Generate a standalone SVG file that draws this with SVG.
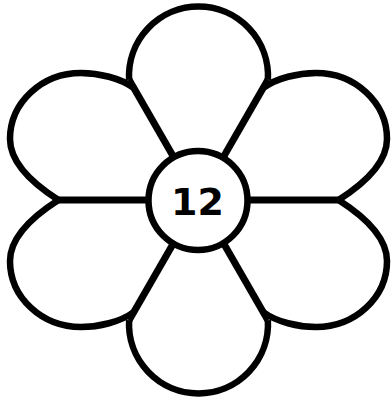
<svg xmlns="http://www.w3.org/2000/svg" xmlns:xlink="http://www.w3.org/1999/xlink" width="391" height="400" viewBox="0 0 391 400">
<style>
.p{fill:none;stroke:#000;stroke-width:6.5;stroke-linejoin:round;stroke-linecap:butt}
.l{stroke:#000;stroke-width:7;stroke-linecap:butt}
.c{fill:#fff;stroke:#000;stroke-width:6.5}
.t{font-family:"DejaVu Sans",Verdana,sans-serif;font-weight:bold;font-size:38px;fill:#000}
</style>
<defs>
<path id="tp" d="M -69.4 -120.2 A 69.5 69.5 0 1 1 69.4 -120.2"/>
<path id="sp" d="M 64.7 -112 C 78 -122 100 -127 117.5 -127 C 156.7 -127 188.5 -97.4 188.5 -61 C 188.5 -35 162 -14 140 0"/>
</defs>
<rect width="391" height="400" fill="#fff"/>
<g transform="translate(198.5,200)">
<g id="petals">
<use id="petal-top" xlink:href="#tp" href="#tp" class="p"/>
<use id="petal-bottom" xlink:href="#tp" href="#tp" class="p" transform="scale(1,-1)"/>
<use id="petal-upper-right" xlink:href="#sp" href="#sp" class="p"/>
<use id="petal-upper-left" xlink:href="#sp" href="#sp" class="p" transform="scale(-1,1)"/>
<use id="petal-lower-right" xlink:href="#sp" href="#sp" class="p" transform="scale(1,-1)"/>
<use id="petal-lower-left" xlink:href="#sp" href="#sp" class="p" transform="scale(-1,-1)"/>
</g>
<g id="connectors">
<line class="l" x1="24.75" y1="-42.87" x2="69.4" y2="-120.2"/>
<line class="l" x1="-24.75" y1="-42.87" x2="-69.4" y2="-120.2"/>
<line class="l" x1="24.75" y1="42.87" x2="69.4" y2="120.2"/>
<line class="l" x1="-24.75" y1="42.87" x2="-69.4" y2="120.2"/>
<line class="l" x1="49.5" y1="0" x2="140" y2="0"/>
<line class="l" x1="-49.5" y1="0" x2="-140" y2="0"/>
</g>
<g id="center">
<circle class="c" cx="-0.5" cy="0.5" r="49.5"/>
<text class="t" x="-1" y="15" text-anchor="middle">12</text>
</g>
</g>
</svg>
